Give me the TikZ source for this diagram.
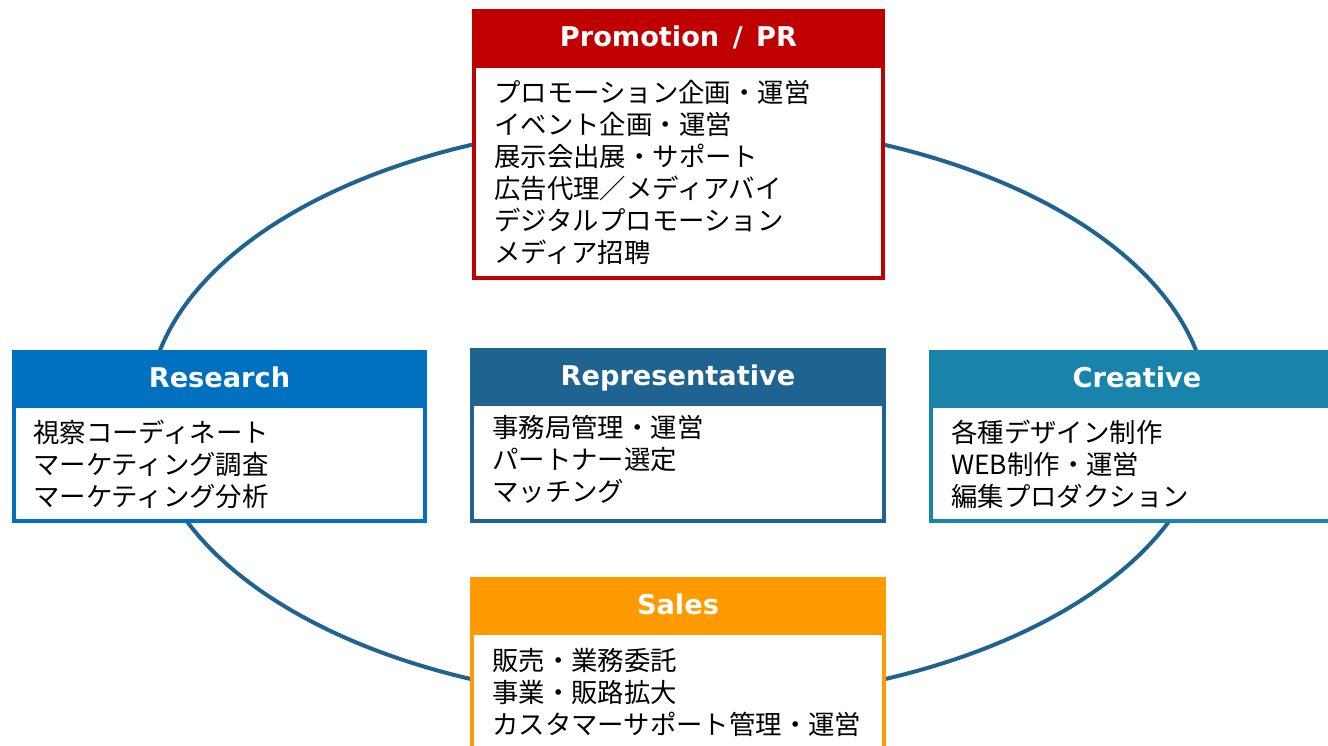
\documentclass[tikz,border=0pt]{standalone}
\usepackage{fontspec}
\setmainfont{Noto Sans CJK JP}
\newfontfamily\titlefont{DejaVu Sans}
\definecolor{prred}{HTML}{C00000}
\definecolor{resblue}{HTML}{0070C0}
\definecolor{repblue}{HTML}{1F6391}
\definecolor{creblue}{HTML}{1884AC}
\definecolor{salesor}{HTML}{FF9A00}
\definecolor{ringblue}{HTML}{1F6391}
\begin{document}
\begin{tikzpicture}[x=1pt,y=-1pt,
  hdr/.style={rectangle, inner sep=0, minimum height=55pt, text=white,
    text height=20pt, text depth=0pt,
    font=\titlefont\bfseries\fontsize{27.2}{32}\selectfont},
  bodybox/.style={rectangle, draw, line width=4pt, fill=white, inner sep=0},
  bodytxt/.style={anchor=north west, inner sep=0, align=left,
    font=\fontsize{26.4}{32}\selectfont},
  ring/.style={draw=ringblue, line width=4pt}]
\useasboundingbox (0,0) rectangle (1328,745);
\clip (0,0) rectangle (1328,745);
\fill[white] (0,0) rectangle (1328,745);
\draw[ring] (678,412) ellipse [x radius=530, y radius=290];

% Promotion / PR
\node[bodybox, draw=prred, minimum width=409pt, minimum height=212pt] (prb) at (678.5,172) {};
\node[hdr, fill=prred, minimum width=413pt] (prh) at (678.5,36.5) {Promotion\hspace{4pt} / \hspace{4pt}PR};
\node[bodytxt] (prt) at (494,80) {プロモーション企画・運営\\イベント企画・運営\\展示会出展・サポート\\広告代理／メディアバイ\\デジタルプロモーション\\メディア招聘};

% Research
\node[bodybox, draw=resblue, minimum width=411pt, minimum height=115pt] (rsb) at (219.5,463.5) {};
\node[hdr, fill=resblue, minimum width=415pt] (rsh) at (219.5,377.5) {Research};
\node[bodytxt] (rst) at (33,420) {視察コーディネート\\マーケティング調査\\マーケティング分析};

% Representative
\node[bodybox, draw=repblue, minimum width=412pt, minimum height=117pt] (rpb) at (678,462.5) {};
\node[hdr, fill=repblue, minimum width=416pt] (rph) at (678,375.5) {Representative};
\node[bodytxt] (rpt) at (492,415) {事務局管理・運営\\パートナー選定\\マッチング};

% Creative
\node[bodybox, draw=creblue, minimum width=412pt, minimum height=115pt] (crb) at (1137,463.5) {};
\node[hdr, fill=creblue, minimum width=416pt] (crh) at (1137,377.5) {Creative};
\node[bodytxt] (crt) at (951,420) {各種デザイン制作\\WEB制作・運営\\編集プロダクション};

% Sales
\node[bodybox, draw=salesor, minimum width=412pt, minimum height=145pt] (sab) at (678,705.5) {};
\node[hdr, fill=salesor, minimum width=416pt] (sah) at (678,604.5) {Sales};
\node[bodytxt] (sat) at (492,648) {販売・業務委託\\事業・販路拡大\\カスタマーサポート管理・運営};
\end{tikzpicture}
\end{document}
